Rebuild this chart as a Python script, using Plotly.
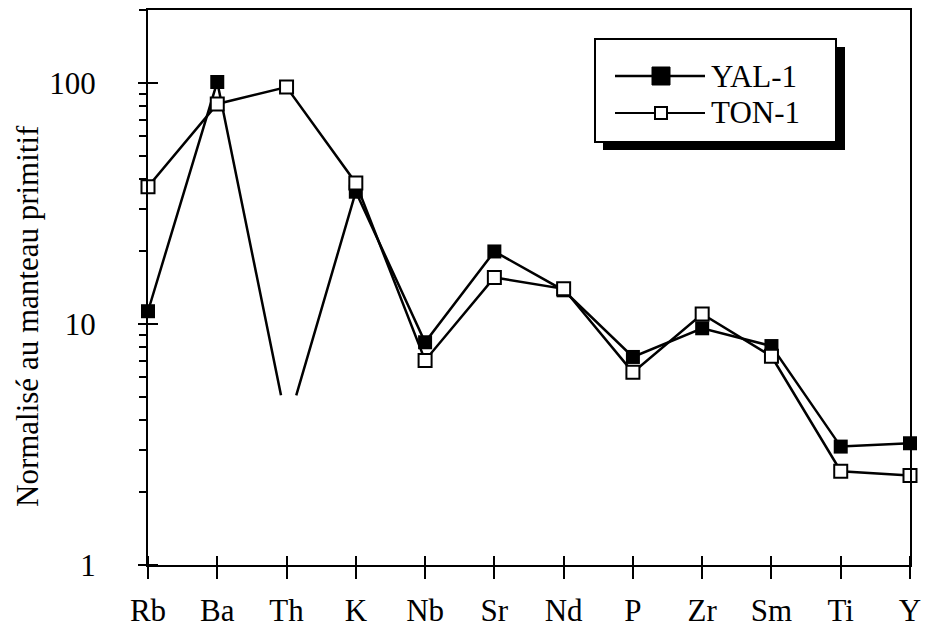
import plotly.graph_objects as go

elements = ["Rb", "Ba", "Th", "K", "Nb", "Sr", "Nd", "P", "Zr", "Sm", "Ti", "Y"]
yal1 = [11.3, 101, None, 35.4, 8.4, 20.0, 13.8, 7.3, 9.6, 8.1, 3.1, 3.2]
ton1 = [37.1, 81.9, 96.2, 38.5, 7.06, 15.6, 14.0, 6.3, 11.0, 7.35, 2.45, 2.35]
# YAL-1 has no Th value: the line dips toward it and stops short
yal1_th_cut_x = [1.92, 2.14]
yal1_th_cut_y = [5.06, 5.06]

major_ticks = [1, 10, 100]
minor_ticks = [2, 3, 4, 5, 6, 7, 8, 9, 20, 30, 40, 50, 60, 70, 80, 90, 200]

pos = list(range(len(elements)))

# YAL-1 line with the cut at Th
line_x, line_y = [], []
for i, v in zip(pos, yal1):
    if v is None:
        line_x += [yal1_th_cut_x[0], None, yal1_th_cut_x[1]]
        line_y += [yal1_th_cut_y[0], None, yal1_th_cut_y[1]]
    else:
        line_x.append(i)
        line_y.append(v)

FONT = "Liberation Serif"

fig = go.Figure()
# traces spread over overlaid axes so the extra tick sets get drawn
fig.add_trace(go.Scatter(x=line_x, y=line_y, mode="lines",
                         line=dict(color="black", width=2.5),
                         showlegend=False, hoverinfo="skip"))
fig.add_trace(go.Scatter(x=pos, y=yal1, mode="markers", name="YAL-1",
                         xaxis="x2", yaxis="y2",
                         marker=dict(symbol="square", size=14, color="black"),
                         cliponaxis=False, showlegend=False))
fig.add_trace(go.Scatter(x=pos, y=ton1, mode="lines+markers", name="TON-1",
                         xaxis="x2", yaxis="y3",
                         line=dict(color="black", width=2.5),
                         marker=dict(symbol="square", size=13, color="white",
                                     line=dict(color="black", width=2)),
                         cliponaxis=False, showlegend=False))

# page has an 8px body margin; plot area on screen is 148..910 x 10..565
OFF = 8
L, T, W, H = 148, 10, 762, 555
TICK_IN = 10  # part of the major ticks that reaches inside the frame


def px(x):
    return (x - L) / W


def py(y):
    return (T + H - y) / H


# hand-drawn legend box with drop shadow
shapes = [
    dict(type="rect", xref="paper", yref="paper", x0=px(603), x1=px(845), y0=py(150), y1=py(47),
         fillcolor="black", line=dict(width=0)),
    dict(type="rect", xref="paper", yref="paper", x0=px(595), x1=px(836), y0=py(142), y1=py(39),
         fillcolor="white", line=dict(color="black", width=2)),
    dict(type="line", xref="paper", yref="paper", x0=px(615), x1=px(705), y0=py(76), y1=py(76),
         line=dict(color="black", width=2.5)),
    dict(type="line", xref="paper", yref="paper", x0=px(615), x1=px(705), y0=py(113), y1=py(113),
         line=dict(color="black", width=2)),
    dict(type="rect", xref="paper", yref="paper", x0=px(652), x1=px(670), y0=py(85), y1=py(67),
         fillcolor="black", line=dict(color="black", width=1)),
    dict(type="rect", xref="paper", yref="paper", x0=px(655), x1=px(667), y0=py(119), y1=py(107),
         fillcolor="white", line=dict(color="black", width=2)),
]
annotations = [
    dict(text="YAL-1", xref="paper", yref="paper", x=px(709), y=py(76), xanchor="left", yanchor="middle",
         showarrow=False, font=dict(family=FONT, size=31, color="black")),
    dict(text="TON-1", xref="paper", yref="paper", x=px(709), y=py(112), xanchor="left", yanchor="middle",
         showarrow=False, font=dict(family=FONT, size=31, color="black")),
    dict(text="Normalisé au manteau primitif", xref="paper", yref="paper", x=px(28), y=py(316),
         textangle=-90, showarrow=False, xanchor="center", yanchor="middle",
         font=dict(family=FONT, size=31, color="black")),
]

fig.update_layout(
    width=933, height=630,
    margin=dict(l=L - OFF, r=933 - (L - OFF) - W, t=T - OFF, b=630 - (T - OFF) - H),
    plot_bgcolor="rgba(0,0,0,0)", paper_bgcolor="white",
    showlegend=False,
    shapes=shapes, annotations=annotations,
    # main axes: the frame only
    xaxis=dict(range=[0, 11], ticks="", showticklabels=False,
               showline=True, linecolor="black", linewidth=2, mirror=True,
               showgrid=False, zeroline=False, automargin=False),
    yaxis=dict(type="log", range=[0, 2.303], ticks="", showticklabels=False,
               showline=True, linecolor="black", linewidth=2, mirror=True,
               showgrid=False, zeroline=False, automargin=False),
    # free axes nudged inside the frame so their ticks cross the frame line
    xaxis2=dict(range=[0, 11], overlaying="x", anchor="free", position=TICK_IN / H, side="bottom",
                tickmode="array", tickvals=pos, ticktext=elements,
                ticks="outside", ticklen=13 + TICK_IN, tickwidth=2, tickcolor="black", automargin=False,
                showline=False, showgrid=False, zeroline=False, ticklabelstandoff=5,
                tickfont=dict(family=FONT, size=31, color="black")),
    yaxis2=dict(type="log", range=[0, 2.303], overlaying="y", anchor="free", position=TICK_IN / W,
                side="left", tickmode="array",
                tickvals=major_ticks, ticktext=[str(t) for t in major_ticks],
                ticks="outside", ticklen=10 + TICK_IN, tickwidth=2, tickcolor="black",
                showline=False, showgrid=False, zeroline=False, automargin=False,
                ticklabelstandoff=36, tickfont=dict(family=FONT, size=31, color="black")),
    yaxis3=dict(type="log", range=[0, 2.303], overlaying="y", anchor="x", side="left", tickmode="array",
                tickvals=minor_ticks, showticklabels=False,
                ticks="outside", ticklen=8, tickwidth=1.5, tickcolor="black",
                showline=False, showgrid=False, zeroline=False, automargin=False),
)

fig.write_html("out.html")
